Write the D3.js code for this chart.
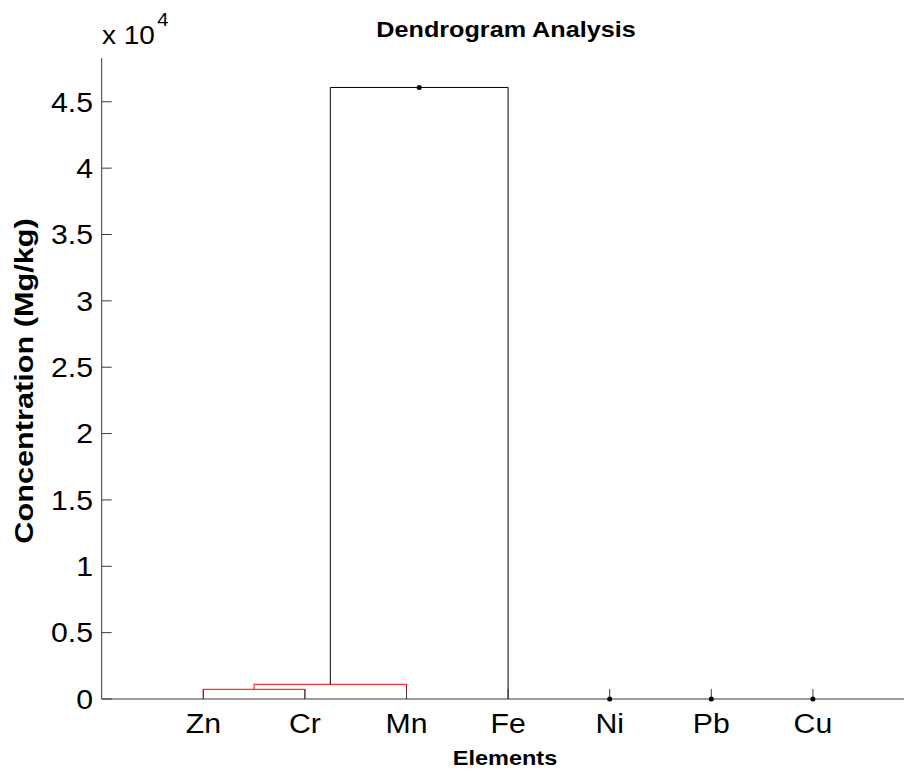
<!DOCTYPE html>
<html>
<head>
<meta charset="utf-8">
<script src="https://cdn.jsdelivr.net/npm/d3@7/dist/d3.min.js"></script>
<style>
  html, body { margin: 0; padding: 0; background: #fff; }
  svg { display: block; }
  text { font-family: "Liberation Sans", Arial, Helvetica, sans-serif; fill: #000; }
</style>
</head>
<body>
<svg id="chart" width="904" height="771"></svg>
<script>
// Leaf order along the x axis
const leaves = ["Zn", "Cr", "Mn", "Fe", "Ni", "Pb", "Cu"];

// Merges: [left node, right node, height]; leaves are 1..7, new clusters 8, 9, ...
const merges = [
  [1, 2, 730],
  [8, 3, 1107],
  [9, 4, 46080]
];
// Link colours per merge
const mergeColors = ["#ff0000", "#ff0000", "#000000"];

// Nodes that carry a dot marker (leaf or cluster ids)
const markerNodes = [5, 6, 7, 10];

// Y tick values (in units of 10^4)
const yTicks = [0, 0.5, 1, 1.5, 2, 2.5, 3, 3.5, 4, 4.5];

const svg = d3.select("#chart");
const plotLeft = 101.7, plotRight = 914.5, plotTop = 58, plotBottom = 699;
const SX = 1.12; // horizontal glyph stretch

const x = d3.scaleLinear().domain([0, leaves.length + 1]).range([plotLeft, plotRight]);
const y = d3.scaleLinear().domain([0, 4.83e4]).range([plotBottom, plotTop]);

// node positions
const nodeX = {}, nodeH = {};
leaves.forEach((d, i) => { nodeX[i + 1] = i + 1; nodeH[i + 1] = 0; });
merges.forEach((m, i) => {
  const id = leaves.length + 1 + i;
  nodeX[id] = (nodeX[m[0]] + nodeX[m[1]]) / 2;
  nodeH[id] = m[2];
});

// links
svg.append("g").selectAll("path").data(merges).join("path")
  .attr("fill", "none")
  .attr("stroke", (d, i) => mergeColors[i])
  .attr("stroke-width", 1)
  .attr("d", d => {
    const xl = x(nodeX[d[0]]), xr = x(nodeX[d[1]]);
    return `M${xl},${y(nodeH[d[0]])}V${y(d[2])}H${xr}V${y(nodeH[d[1]])}`;
  });

// axes
const ax = svg.append("g").attr("stroke", "#3a3a3a").attr("stroke-width", 1).attr("fill", "none");
ax.append("line").attr("x1", plotLeft).attr("x2", 904).attr("y1", plotBottom).attr("y2", plotBottom);
ax.append("line").attr("x1", plotLeft).attr("x2", plotLeft).attr("y1", plotTop).attr("y2", plotBottom);
ax.selectAll(".yt").data(yTicks).join("line")
  .attr("x1", plotLeft).attr("x2", plotLeft + 10)
  .attr("y1", d => y(d * 1e4)).attr("y2", d => y(d * 1e4));
ax.selectAll(".xt").data(leaves).join("line")
  .attr("x1", (d, i) => x(i + 1)).attr("x2", (d, i) => x(i + 1))
  .attr("y1", plotBottom).attr("y2", plotBottom - 10);

// markers
svg.append("g").selectAll("circle").data(markerNodes).join("circle")
  .attr("cx", d => x(nodeX[d]))
  .attr("cy", d => y(nodeH[d]))
  .attr("r", 2.5)
  .attr("fill", "#000");

// y tick labels
svg.append("g").selectAll("text").data(yTicks).join("text")
  .attr("transform", d => `translate(93,${y(d * 1e4)}) scale(${SX},1)`)
  .attr("text-anchor", "end")
  .attr("dy", "0.36em")
  .attr("font-size", 27)
  .text(d => d3.format("~g")(d));

// x tick labels
svg.append("g").selectAll("text").data(leaves).join("text")
  .attr("transform", (d, i) => `translate(${x(i + 1)},733) scale(${SX},1)`)
  .attr("text-anchor", "middle")
  .attr("font-size", 27)
  .text(d => d);

// exponent label
const ex = svg.append("text").attr("transform", `translate(102,44) scale(${SX},1)`).attr("font-size", 25);
ex.append("tspan").text("x 10");
ex.append("tspan").attr("font-size", 18).attr("dy", -18).attr("dx", 2).text("4");

// title
svg.append("text")
  .attr("transform", `translate(506,37) scale(${SX},1)`)
  .attr("text-anchor", "middle")
  .attr("font-size", 22.5)
  .attr("font-weight", "bold")
  .text("Dendrogram Analysis");

// x label
svg.append("text")
  .attr("transform", `translate(505,765) scale(${SX},1)`)
  .attr("text-anchor", "middle")
  .attr("font-size", 21)
  .attr("font-weight", "bold")
  .text("Elements");

// y label
svg.append("text")
  .attr("transform", `translate(33,381) rotate(-90) scale(1.18,1)`)
  .attr("text-anchor", "middle")
  .attr("font-size", 26)
  .attr("font-weight", "bold")
  .text("Concentration (Mg/kg)");
</script>
</body>
</html>
